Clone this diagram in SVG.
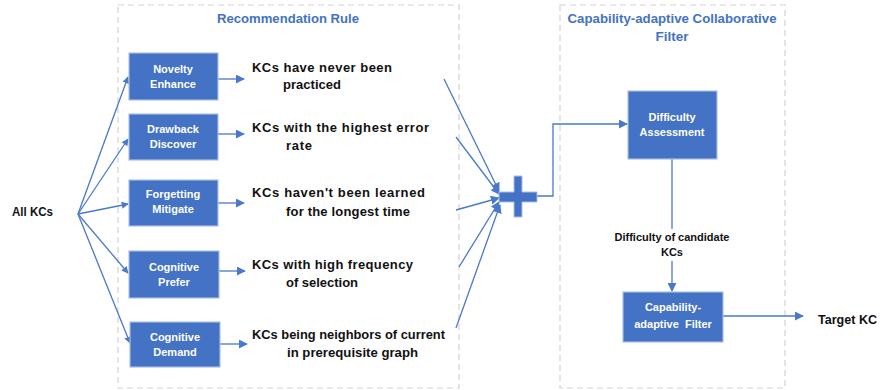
<svg xmlns="http://www.w3.org/2000/svg" width="880" height="390" viewBox="0 0 880 390">
<style>
.frame{fill:none;stroke:#D3D3D3;stroke-width:1.2;stroke-dasharray:6 4}
.box{fill:#4472C4;stroke:#A9BEE4;stroke-width:1.2}
.bl{font-family:"Liberation Sans",Arial,sans-serif;font-weight:bold;font-size:11px;fill:#FFFFFF;text-anchor:middle}
.tx{font-family:"Liberation Sans",Arial,sans-serif;font-weight:bold;font-size:13px;fill:#111111}
.ttl{font-family:"Liberation Sans",Arial,sans-serif;font-weight:bold;font-size:13.5px;fill:#4472C4}
.ln{fill:none;stroke:#4A78CC;stroke-width:1.3}
.sm{font-family:"Liberation Sans",Arial,sans-serif;font-weight:bold;font-size:11px;fill:#111111;text-anchor:middle}
</style>
<defs>
<marker id="ah" viewBox="0 0 10 10" refX="9" refY="5" markerWidth="7" markerHeight="7" markerUnits="userSpaceOnUse" orient="auto">
<path d="M0,0 L10,5 L0,10 z" fill="#4A78CC"/>
</marker>
<marker id="ahb" viewBox="0 0 10 10" refX="9" refY="5" markerWidth="9" markerHeight="9" markerUnits="userSpaceOnUse" orient="auto">
<path d="M0,0 L10,5 L0,10 z" fill="#4A78CC"/>
</marker>
</defs>

<g id="frames">
<rect class="frame" x="118" y="5" width="341" height="383"/>
<rect class="frame" x="560" y="5" width="225" height="383"/>
<text class="ttl" x="288" y="23" text-anchor="middle" textLength="142" lengthAdjust="spacingAndGlyphs">Recommendation Rule</text>
<text class="ttl" x="672" y="23" text-anchor="middle" textLength="209" lengthAdjust="spacingAndGlyphs">Capability-adaptive Collaborative</text>
<text class="ttl" x="672" y="41" text-anchor="middle">Filter</text>
</g>

<g id="connectors">
<line class="ln" x1="78" y1="214" x2="128" y2="77" marker-end="url(#ah)"/>
<line class="ln" x1="78" y1="214" x2="128" y2="139" marker-end="url(#ah)"/>
<line class="ln" x1="78" y1="214" x2="128" y2="204" marker-end="url(#ah)"/>
<line class="ln" x1="78" y1="214" x2="128" y2="273" marker-end="url(#ah)"/>
<line class="ln" x1="78" y1="214" x2="130" y2="343" marker-end="url(#ah)"/>
<line class="ln" x1="218" y1="79" x2="244" y2="79" marker-end="url(#ahb)"/>
<line class="ln" x1="218" y1="134" x2="244" y2="134" marker-end="url(#ahb)"/>
<line class="ln" x1="218" y1="203" x2="244" y2="203" marker-end="url(#ahb)"/>
<line class="ln" x1="219" y1="271" x2="245" y2="271" marker-end="url(#ahb)"/>
<line class="ln" x1="220" y1="344" x2="247" y2="344" marker-end="url(#ahb)"/>
<line class="ln" x1="444" y1="79" x2="499" y2="191" marker-end="url(#ahb)"/>
<line class="ln" x1="456" y1="137" x2="499" y2="194" marker-end="url(#ahb)"/>
<line class="ln" x1="456" y1="210" x2="499" y2="198" marker-end="url(#ahb)"/>
<line class="ln" x1="459" y1="267" x2="499" y2="202" marker-end="url(#ahb)"/>
<line class="ln" x1="456" y1="328" x2="500" y2="205" marker-end="url(#ahb)"/>
<polyline class="ln" points="537,196 553,196 553,124 627,124" marker-end="url(#ahb)"/>
<line class="ln" x1="672" y1="159" x2="672" y2="229"/>
<line class="ln" x1="672" y1="261" x2="672" y2="291" marker-end="url(#ahb)"/>
<line class="ln" x1="723" y1="316" x2="803" y2="316" marker-end="url(#ahb)"/>
</g>

<g id="allkcs">
<text class="tx" x="12" y="216" textLength="41" lengthAdjust="spacingAndGlyphs">All KCs</text>
</g>

<g id="novelty">
<rect class="box" x="129" y="53" width="89" height="47"/>
<text class="bl" x="173" y="73">Novelty</text>
<text class="bl" x="173" y="88">Enhance</text>
</g>
<g id="drawback">
<rect class="box" x="129" y="114" width="89" height="46"/>
<text class="bl" x="173" y="133">Drawback</text>
<text class="bl" x="173" y="148">Discover</text>
</g>
<g id="forgetting">
<rect class="box" x="129" y="180" width="89" height="46"/>
<text class="bl" x="173" y="198">Forgetting</text>
<text class="bl" x="173" y="213">Mitigate</text>
</g>
<g id="prefer">
<rect class="box" x="129" y="251" width="90" height="47"/>
<text class="bl" x="174" y="271">Cognitive</text>
<text class="bl" x="174" y="286">Prefer</text>
</g>
<g id="demand">
<rect class="box" x="130" y="322" width="90" height="45"/>
<text class="bl" x="175" y="341">Cognitive</text>
<text class="bl" x="175" y="356">Demand</text>
</g>

<g id="rule-texts">
<text class="tx" x="252" y="72" textLength="140" lengthAdjust="spacing">KCs have never been</text>
<text class="tx" x="283" y="89" textLength="58" lengthAdjust="spacing">practiced</text>
<text class="tx" x="252" y="132" textLength="177" lengthAdjust="spacing">KCs with the highest error</text>
<text class="tx" x="286" y="150" textLength="26" lengthAdjust="spacing">rate</text>
<text class="tx" x="252" y="197" textLength="173" lengthAdjust="spacing">KCs haven't been learned</text>
<text class="tx" x="286" y="216" textLength="124" lengthAdjust="spacing">for the longest time</text>
<text class="tx" x="252" y="269" textLength="161" lengthAdjust="spacing">KCs with high frequency</text>
<text class="tx" x="286" y="287" textLength="72" lengthAdjust="spacing">of selection</text>
<text class="tx" x="252" y="339" textLength="193" lengthAdjust="spacingAndGlyphs">KCs being neighbors of current</text>
<text class="tx" x="287" y="357" textLength="131" lengthAdjust="spacingAndGlyphs">in prerequisite graph</text>
</g>

<g id="plus">
<path d="M514,176 H522 V192 H537 V202 H522 V217 H514 V202 H499 V192 H514 Z" fill="#4472C4" stroke="#A9BEE4" stroke-width="1"/>
</g>

<g id="difficulty">
<rect class="box" x="628" y="91" width="89" height="68"/>
<text class="bl" x="672" y="121">Difficulty</text>
<text class="bl" x="672" y="136">Assessment</text>
</g>

<g id="diff-label">
<text class="sm" x="672" y="241" textLength="115" lengthAdjust="spacingAndGlyphs">Difficulty of candidate</text>
<text class="sm" x="672" y="256">KCs</text>
</g>

<g id="capfilter">
<rect class="box" x="623" y="292" width="100" height="50"/>
<text class="bl" x="673" y="311">Capability-</text>
<text class="bl" x="673" y="328" xml:space="preserve">adaptive  Filter</text>
</g>

<g id="target">
<text class="tx" x="818" y="324" textLength="59" lengthAdjust="spacingAndGlyphs">Target KC</text>
</g>
</svg>
